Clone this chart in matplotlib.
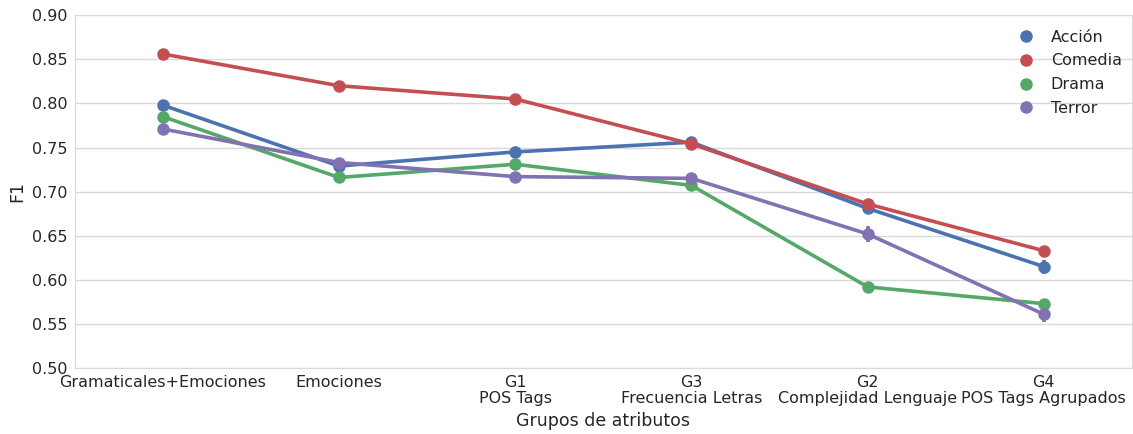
import matplotlib
matplotlib.use("Agg")
import matplotlib.pyplot as plt
import numpy as np

categories = ["Gramaticales+Emociones", "Emociones", "G1\nPOS Tags", "G3\nFrecuencia Letras",
              "G2\nComplejidad Lenguaje", "G4\nPOS Tags Agrupados"]
series_names = ["Acción", "Comedia", "Drama", "Terror"]
accion = [0.798, 0.729, 0.745, 0.756, 0.681, 0.615]
comedia = [0.856, 0.820, 0.805, 0.754, 0.686, 0.633]
drama = [0.785, 0.716, 0.731, 0.707, 0.592, 0.573]
terror = [0.771, 0.733, 0.717, 0.715, 0.652, 0.561]
accion_err = [0.003, 0.005, 0.003, 0.003, 0.005, 0.008]
comedia_err = [0.002, 0.002, 0.002, 0.002, 0.003, 0.002]
drama_err = [0.004, 0.002, 0.002, 0.005, 0.002, 0.004]
terror_err = [0.003, 0.005, 0.003, 0.003, 0.009, 0.009]

colors = ["#4C72B0", "#C44E52", "#55A868", "#8172B2"]
txt = "#262626"

fig = plt.figure(figsize=(11.33, 4.34), dpi=100)
ax = fig.add_axes([0.066, 0.152, 0.933, 0.813])
x = np.arange(len(categories))
for name, vals, err, c in zip(series_names, [accion, comedia, drama, terror],
                              [accion_err, comedia_err, drama_err, terror_err], colors):
    ax.errorbar(x, vals, yerr=err, color=c, lw=2.6, marker="o", ms=8,
                elinewidth=2.6, capsize=0, label=name, zorder=3)

ax.set_xlim(-0.5, 5.5)
ax.set_ylim(0.5, 0.9)
ax.set_yticks(np.arange(0.5, 0.901, 0.05))
ax.set_yticklabels([f"{v:.2f}" for v in np.arange(0.5, 0.901, 0.05)])
ax.set_xticks(x)
ax.set_xticklabels(categories, linespacing=1.1)
ax.grid(axis="y", color="#d9d9d9", lw=1)
ax.set_axisbelow(True)
for s in ax.spines.values():
    s.set_color("#d9d9d9")
ax.tick_params(length=0, labelsize=11.5, colors=txt, pad=5)
ax.set_ylabel("F1", fontsize=12.5, color=txt)
ax.set_xlabel("Grupos de atributos", fontsize=12.5, color=txt, labelpad=4)

handles = [plt.Line2D([], [], ls="", marker="o", ms=8, color=c) for c in colors]
ax.legend(handles, series_names, loc="upper right", frameon=False, fontsize=11.5,
          labelcolor=txt, handletextpad=0.75, handlelength=1.6, labelspacing=0.55,
          bbox_to_anchor=(1.004, 1.0))

fig.savefig("out.png", dpi=100, facecolor="white")
